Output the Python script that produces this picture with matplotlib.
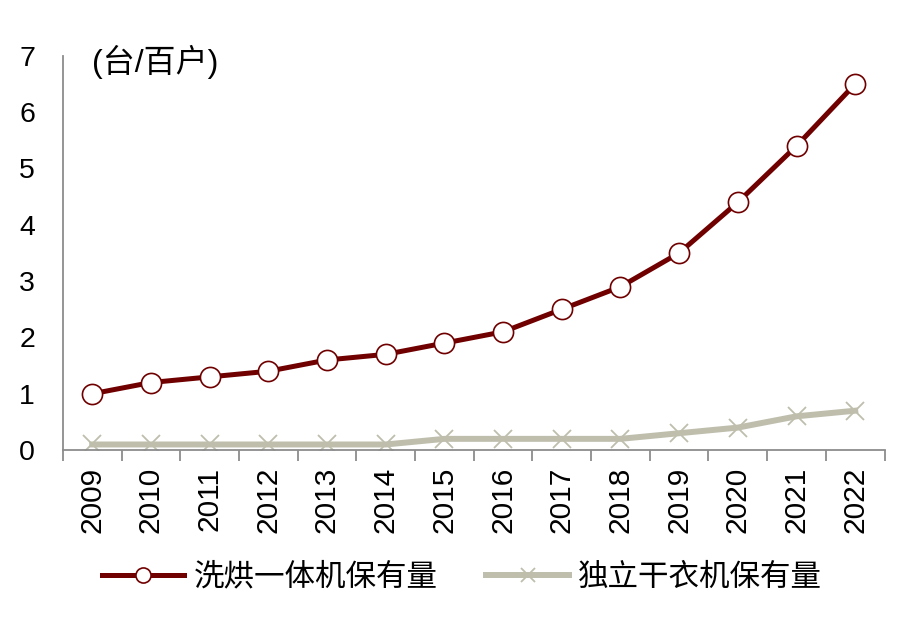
import matplotlib.pyplot as plt
import numpy as np

plt.rcParams['font.family'] = ['Liberation Sans', 'Noto Sans CJK SC', 'DejaVu Sans']

years = ['2009', '2010', '2011', '2012', '2013', '2014', '2015',
         '2016', '2017', '2018', '2019', '2020', '2021', '2022']
combo = [1.0, 1.2, 1.3, 1.4, 1.6, 1.7, 1.9, 2.1, 2.5, 2.9, 3.5, 4.4, 5.4, 6.5]
dryer = [0.1, 0.1, 0.1, 0.1, 0.1, 0.1, 0.2, 0.2, 0.2, 0.2, 0.3, 0.4, 0.6, 0.7]

red = '#700000'
grey = '#BFBEAD'
axis_grey = '#8C8C8C'

fig = plt.figure(figsize=(9.11, 6.2), dpi=100)
ax = fig.add_axes([0.069, 0.274, 0.902, 0.636])

x = np.arange(len(years))
ax.plot(x, dryer, color=grey, lw=4.3, marker='x', ms=13, mew=1.3,
        mec=grey, label='独立干衣机保有量', zorder=2)
ax.plot(x, combo, color=red, lw=3.6, marker='o', ms=14.5, mfc='white',
        mec=red, mew=1.2, label='洗烘一体机保有量', zorder=3)

ax.set_xlim(-0.5, len(years) - 0.5)
ax.set_ylim(0, 7)
ax.set_yticks(range(0, 8))
ax.set_xticks(x)
ax.set_xticklabels(years, rotation=90, fontsize=21.5)
ax.set_xticks(np.arange(-0.5, len(years)), minor=True)
ax.tick_params(axis='x', which='major', length=0, pad=12)
ax.tick_params(axis='x', which='minor', length=8, width=1.3, color=axis_grey, direction='out')
ax.tick_params(axis='y', length=0, labelsize=20.5, pad=20)

for s in ['top', 'right']:
    ax.spines[s].set_visible(False)
ax.spines['left'].set_color(axis_grey)
ax.spines['bottom'].set_color(axis_grey)
ax.spines['left'].set_linewidth(1.3)
ax.spines['bottom'].set_linewidth(1.3)

ax.text(0.036, 0.985, '(台/百户)', transform=ax.transAxes, fontsize=23,
        va='center', ha='left')

handles, labels = ax.get_legend_handles_labels()
fig.legend(handles[::-1], labels[::-1], loc='center', bbox_to_anchor=(0.507, 0.068),
           ncol=2, frameon=False, fontsize=22, handlelength=2.7, markerscale=0.75,
           columnspacing=1.6, handletextpad=0.3)

fig.savefig('out.png', dpi=100, facecolor='white')
